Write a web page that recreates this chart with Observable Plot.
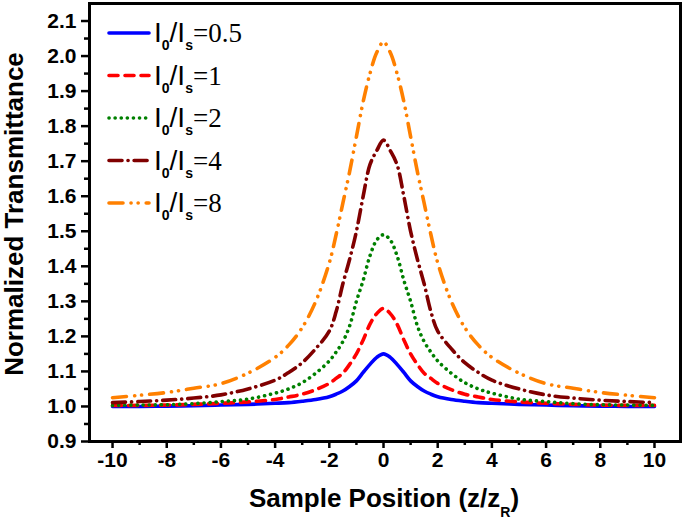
<!DOCTYPE html>
<html>
<head>
<meta charset="utf-8">
<script src="https://cdn.jsdelivr.net/npm/d3@7"></script>
<script src="https://cdn.jsdelivr.net/npm/@observablehq/plot@0.6"></script>
<style>
  html, body { margin: 0; padding: 0; background: white; }
  #chart { width: 685px; height: 523px; }
</style>
</head>
<body>
<div id="chart"></div>
<script>
// Sample position z/zR
const xs = [-10,-9,-8,-7,-6,-5,-4,-3.5,-3,-2.5,-2,-1.75,-1.5,-1.25,-1,-0.75,-0.5,-0.25,0,
            0.25,0.5,0.75,1,1.25,1.5,1.75,2,2.5,3,3.5,4,5,6,7,8,9,10];
// Normalized transmittance for each I0/Is
const t05 = [1.000,1.000,1.001,1.002,1.004,1.006,1.009,1.011,1.015,1.020,1.028,1.035,1.044,1.057,1.073,1.097,1.120,1.140,1.150,
             1.140,1.120,1.097,1.073,1.057,1.044,1.035,1.028,1.020,1.015,1.011,1.009,1.006,1.004,1.002,1.001,1.000,1.000];
const t1  = [1.003,1.003,1.004,1.006,1.009,1.013,1.020,1.027,1.035,1.048,1.066,1.080,1.095,1.120,1.150,1.190,1.235,1.265,1.280,
             1.265,1.235,1.190,1.150,1.120,1.095,1.080,1.066,1.048,1.035,1.027,1.020,1.013,1.009,1.006,1.004,1.003,1.003];
const t2  = [1.003,1.004,1.005,1.008,1.014,1.021,1.038,1.050,1.068,1.095,1.130,1.155,1.185,1.230,1.300,1.360,1.430,1.475,1.490,
             1.475,1.430,1.360,1.300,1.230,1.185,1.155,1.130,1.095,1.068,1.050,1.038,1.021,1.014,1.008,1.005,1.004,1.003];
const t4  = [1.011,1.014,1.018,1.024,1.033,1.050,1.075,1.097,1.125,1.165,1.215,1.270,1.350,1.420,1.500,1.600,1.690,1.730,1.760,
             1.730,1.690,1.600,1.500,1.420,1.350,1.270,1.215,1.165,1.125,1.097,1.075,1.050,1.033,1.024,1.018,1.014,1.011];
const t8  = [1.025,1.032,1.040,1.052,1.065,1.095,1.140,1.175,1.225,1.300,1.410,1.490,1.580,1.670,1.770,1.870,1.950,2.010,2.040,
             2.010,1.950,1.870,1.770,1.670,1.580,1.490,1.410,1.300,1.225,1.175,1.140,1.095,1.065,1.052,1.040,1.032,1.025];

const seriesLabels = ["0.5","1","2","4","8"];
const seriesValues = [t05, t1, t2, t4, t8];
const seriesColors = ["#0000ff","#ff0000","#008000","#800000","#ff8000"];
const seriesDash   = [null, "9 7", "0.1 6", "13 6 0.1 6", "14 8 0.1 7 0.1 8"];

const xMajor = [-10,-8,-6,-4,-2,0,2,4,6,8,10];
const xMinor = [-9,-7,-5,-3,-1,1,3,5,7,9];
const yMajor = [0.9,1.0,1.1,1.2,1.3,1.4,1.5,1.6,1.7,1.8,1.9,2.0,2.1];
const yMinor = [0.95,1.05,1.15,1.25,1.35,1.45,1.55,1.65,1.75,1.85,1.95,2.05];

const lines = seriesValues.map((vals, i) =>
  Plot.line(xs.map((x, j) => ({x, y: vals[j]})), {
    x: "x", y: "y",
    stroke: seriesColors[i],
    strokeWidth: 3.6,
    strokeDasharray: seriesDash[i] || undefined,
    strokeLinecap: "round",
    strokeLinejoin: "round",
    curve: "catmull-rom"
  })
);

const fmtX = d => (d < 0 ? "-" + (-d) : String(d));

const chart = Plot.plot({
  width: 685, height: 523,
  marginLeft: 89, marginRight: 5, marginTop: 3, marginBottom: 82,
  x: {domain: [-10.85, 10.96]},
  y: {domain: [0.9, 2.15]},
  style: {fontFamily: "'Liberation Sans', Arial, sans-serif", color: "black", background: "white"},
  marks: [
    ...lines,
    Plot.axisX({ticks: xMinor, tickSize: 4, tickFormat: () => "", label: null, strokeWidth: 2.5}),
    Plot.axisX({ticks: xMajor, tickSize: 7, tickPadding: 4, tickFormat: fmtX, label: null,
                fontSize: 21, fontWeight: "bold", strokeWidth: 2.5}),
    Plot.axisY({ticks: yMinor, tickSize: 5, tickFormat: () => "", label: null, strokeWidth: 2.5}),
    Plot.axisY({ticks: yMajor, tickSize: 8, tickPadding: 5, tickFormat: d3.format(".1f"), label: null,
                fontSize: 21, fontWeight: "bold", strokeWidth: 2.5}),
    Plot.frame({stroke: "black", strokeWidth: 3})
  ]
});

document.getElementById("chart").appendChild(chart);

// Axis titles and legend
const svg = d3.select(chart);

const xt = svg.append("text")
  .attr("x", 384).attr("y", 507)
  .attr("text-anchor", "middle")
  .style("font-family", "'Liberation Sans', Arial, sans-serif")
  .style("font-size", "26px").style("font-weight", "bold").attr("fill", "black");
xt.append("tspan").text("Sample Position (z/z");
xt.append("tspan").attr("dy", 10).style("font-size", "14px").text("R");
xt.append("tspan").attr("dy", -10).text(")");

svg.append("text")
  .attr("transform", "translate(23,214) rotate(-90)")
  .attr("text-anchor", "middle")
  .style("font-family", "'Liberation Sans', Arial, sans-serif")
  .style("font-size", "26px").style("font-weight", "bold").attr("fill", "black")
  .text("Normalized Transmittance");

const leg = svg.append("g");
seriesLabels.forEach((lab, i) => {
  const yy = 33 + i * 42.5;
  leg.append("line")
    .attr("x1", 109).attr("x2", 149).attr("y1", yy).attr("y2", yy)
    .attr("stroke", seriesColors[i]).attr("stroke-width", 3.6)
    .attr("stroke-linecap", "round")
    .attr("stroke-dasharray", seriesDash[i] || null);
  const t = leg.append("text")
    .attr("x", 154).attr("y", yy + 9)
    .attr("text-anchor", "start")
    .attr("fill", "black")
    .style("font-family", "'Liberation Sans', Arial, sans-serif")
    .style("font-size", "28px");
  t.append("tspan").text("I");
  t.append("tspan").attr("dy", 8).style("font-size", "14px").style("font-weight", "bold").text("0");
  t.append("tspan").attr("dy", -8).text("/I");
  t.append("tspan").attr("dy", 8).style("font-size", "14px").style("font-weight", "bold").text("s");
  t.append("tspan").attr("dy", -8)
    .style("font-family", "'Liberation Serif', 'Times New Roman', serif")
    .style("font-size", "27px")
    .text("=" + lab);
});
</script>
</body>
</html>
